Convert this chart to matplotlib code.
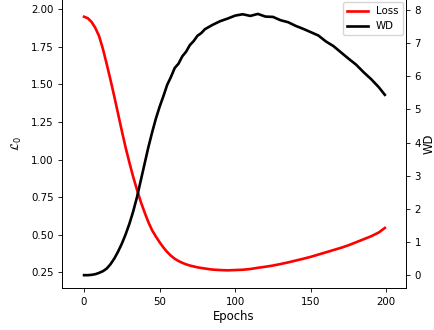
import numpy as np
import matplotlib
matplotlib.use("Agg")
import matplotlib.pyplot as plt

epochs = [0, 2.5, 5, 7.5, 10, 12.5, 15, 17.5, 20, 22.5, 25, 27.5, 30, 32.5, 35, 37.5,
          40, 42.5, 45, 47.5, 50, 52.5, 55, 57.5, 60, 62.5, 65, 67.5, 70, 72.5, 75,
          77.5, 80, 85, 90, 95, 100, 105, 110, 115, 120, 125, 130, 135, 140, 145,
          150, 155, 160, 165, 170, 175, 180, 185, 190, 195, 199]

loss = [1.950, 1.940, 1.915, 1.875, 1.820, 1.735, 1.635, 1.530, 1.420, 1.305, 1.190,
        1.080, 0.980, 0.885, 0.800, 0.720, 0.650, 0.585, 0.530, 0.488, 0.450, 0.415,
        0.385, 0.360, 0.340, 0.325, 0.313, 0.303, 0.295, 0.289, 0.283, 0.279, 0.275,
        0.268, 0.265, 0.263, 0.265, 0.267, 0.272, 0.280, 0.287, 0.295, 0.305, 0.316,
        0.328, 0.340, 0.353, 0.368, 0.383, 0.398, 0.413, 0.430, 0.450, 0.470, 0.490,
        0.515, 0.545]

wd = [0.00, 0.00, 0.01, 0.03, 0.07, 0.12, 0.20, 0.33, 0.50, 0.71, 0.95, 1.23, 1.55,
      1.92, 2.35, 2.85, 3.35, 3.85, 4.30, 4.72, 5.08, 5.40, 5.74, 5.98, 6.25, 6.38,
      6.60, 6.74, 6.94, 7.06, 7.22, 7.30, 7.42, 7.55, 7.66, 7.74, 7.83, 7.87, 7.82,
      7.88, 7.80, 7.79, 7.69, 7.63, 7.52, 7.43, 7.33, 7.23, 7.05, 6.91, 6.72, 6.53,
      6.35, 6.12, 5.91, 5.67, 5.44]

fs = 7.4
plt.rcParams['font.size'] = fs
plt.rcParams['axes.linewidth'] = 0.6
plt.rcParams['xtick.major.size'] = 2.8
plt.rcParams['ytick.major.size'] = 2.8
plt.rcParams['xtick.major.width'] = 0.6
plt.rcParams['ytick.major.width'] = 0.6

fig = plt.figure(figsize=(4.35, 3.3), dpi=100)
ax = fig.add_axes([0.1432, 0.127, 0.7894, 0.876])
ax2 = ax.twinx()

l1, = ax.plot(epochs, loss, color='red', lw=1.9, label='Loss')
l2, = ax2.plot(epochs, wd, color='black', lw=1.9, label='WD')

ax.set_xlim(-14.4, 212.8)
ax.set_ylim(0.145, 2.068)
ax2.set_ylim(-0.39, 8.33)
ax.set_xticks([0, 50, 100, 150, 200])
ax.set_yticks([0.25, 0.5, 0.75, 1.0, 1.25, 1.5, 1.75, 2.0])
ax2.set_yticks(range(0, 9))

ax.set_xlabel('Epochs', fontsize=8.4, labelpad=2)
ax.set_ylabel(r'$\mathcal{L}_0$', fontsize=8.4, labelpad=5)
ax2.set_ylabel('WD', fontsize=8.4, labelpad=1)

ax2.legend([l1, l2], ['Loss', 'WD'], loc='upper right', fontsize=fs,
           borderaxespad=0.3, handlelength=2.0)

fig.savefig('out.png', dpi=100)
